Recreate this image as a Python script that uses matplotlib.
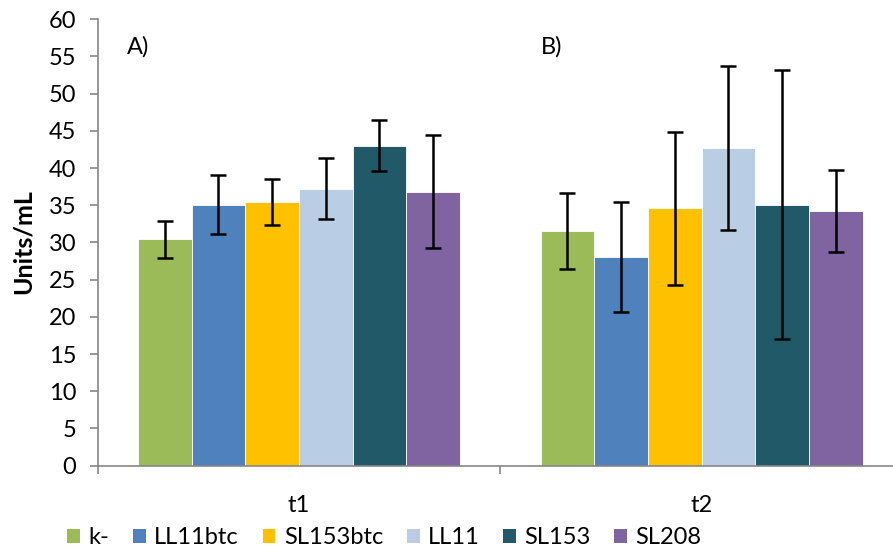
import matplotlib.pyplot as plt
import numpy as np
from matplotlib.patches import Patch

plt.rcParams['font.family'] = ['Lato', 'DejaVu Sans']

# data
groups = ["t1", "t2"]
strains = ["k-", "LL11btc", "SL153btc", "LL11", "SL153", "SL208"]
colors = ["#9BBB59", "#4F81BD", "#FFC000", "#B9CDE5", "#215968", "#8064A2"]

t1_vals = [30.4, 35.1, 35.4, 37.2, 43.0, 36.8]
t1_err = [2.5, 4.0, 3.1, 4.1, 3.4, 7.6]
t2_vals = [31.5, 28.1, 34.6, 42.7, 35.1, 34.2]
t2_err = [5.1, 7.4, 10.3, 11.0, 18.1, 5.5]

fig = plt.figure(figsize=(8.93, 5.5), dpi=100)
ax = fig.add_axes([0.1094, 0.1533, 0.9016, 0.8117])

x = np.arange(len(groups))
w = 0.8 / len(strains)
for i, name in enumerate(strains):
    vals = [t1_vals[i], t2_vals[i]]
    errs = [t1_err[i], t2_err[i]]
    pos = x - 0.4 + w * (i + 0.5)
    ax.bar(pos, vals, width=w, color=colors[i], edgecolor="white", linewidth=0.6, zorder=2)
    ax.errorbar(pos, vals, yerr=errs, fmt="none", ecolor="black", elinewidth=1.8,
                capsize=5.5, capthick=1.8, zorder=3)

ax.set_xlim(-0.5, len(groups) - 0.5)
ax.set_ylim(0, 60)
ax.set_yticks(range(0, 61, 5))
ax.set_xticks(x)
ax.set_xticklabels(groups)
ax.set_xticks(np.arange(-0.5, len(groups), 1.0), minor=True)
ax.tick_params(axis="x", which="major", length=0, pad=21, labelsize=17)
ax.tick_params(axis="x", which="minor", length=5.5, color="#868686", width=1.2)
ax.tick_params(axis="y", length=5.5, color="#868686", width=1.2, labelsize=17, pad=10)

for s in ["top", "right"]:
    ax.spines[s].set_visible(False)
for s in ["left", "bottom"]:
    ax.spines[s].set_color("#868686")
    ax.spines[s].set_linewidth(1.2)

fig.text(23 / 893, 0.56, "Units/mL", fontsize=18, fontweight="bold",
         rotation=90, ha="center", va="center")

ax.text(-0.427, 56.3, "A)", fontsize=17, va="center")
ax.text(0.60, 56.3, "B)", fontsize=17, va="center")

handles = [Patch(facecolor=c, label=n) for c, n in zip(colors, strains)]
fig.legend(handles=handles, loc="center", bbox_to_anchor=(384.5 / 893, 12 / 550), ncol=6,
           frameon=False, fontsize=17, handlelength=0.55, handleheight=0.55,
           handletextpad=0.35, columnspacing=1.0, borderpad=0)

fig.savefig("out.png", dpi=100)
